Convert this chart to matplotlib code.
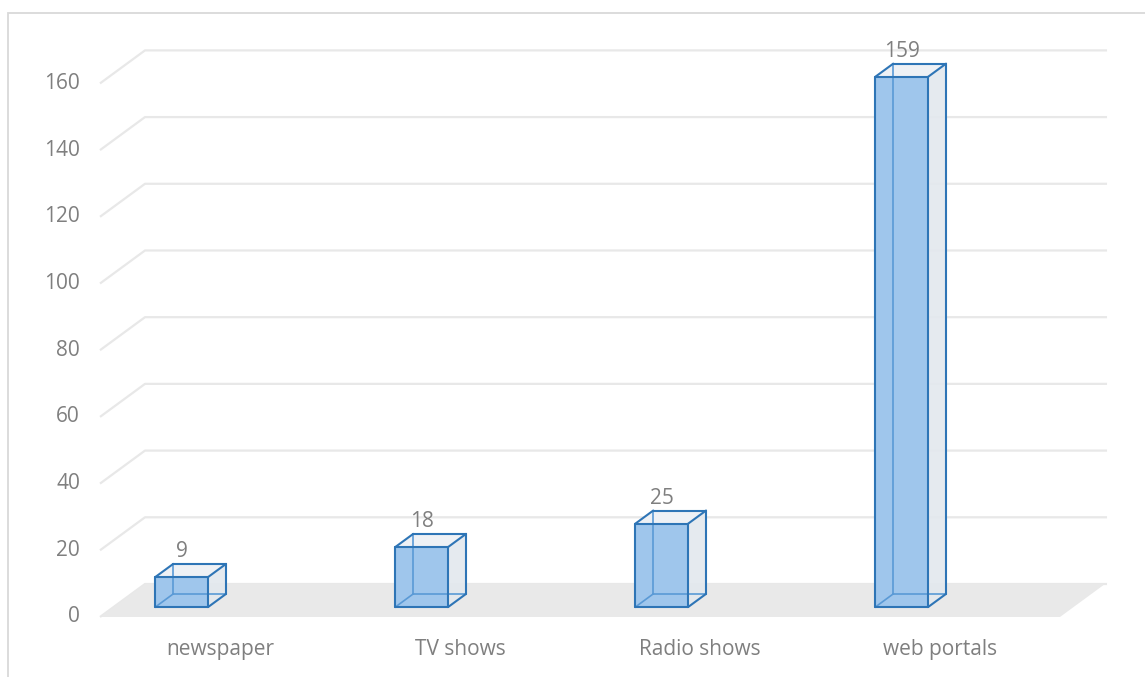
import matplotlib.pyplot as plt
from matplotlib.patches import Polygon, Rectangle

# data
categories = ['newspaper', 'TV shows', 'Radio shows', 'web portals']
values = [9, 18, 25, 159]
ticks = [0, 20, 40, 60, 80, 100, 120, 140, 160]

# fake 3d: depth shift (in category / value units for full floor depth)
DX = 0.1875
DY = 9.9
D0, D1 = 0.30, 0.70      # bar front / back depth
HALF = 0.11              # half bar width
OFF = -0.216             # bar shift from category centre
WALL_RIGHT = 3.696

edge = '#2E75B6'
hidden = '#5A9AD6'
front_col = '#9FC6EC'
side_col = '#E3E8EE'
top_col = '#EEF1F5'
grid_col = '#E8E8E8'
txt_col = '#7F7F7F'
FS = 15

plt.rcParams['font.family'] = ['Open Sans', 'DejaVu Sans']


def proj(c, v, d):
    return (c + d * DX, v + d * DY)


fig = plt.figure(figsize=(11.45, 6.77), dpi=100)
ax = fig.add_axes([0, 0, 1, 1])
ax.set_xlim(-220 / 240, 925 / 240)
ax.set_ylim(-60 / 3.335, 617 / 3.335)
ax.axis('off')

# chart frame
fig.patches.append(Rectangle((8 / 1145, -0.1), 2, 1.1 - 13 / 677,
                             transform=fig.transFigure, fill=False,
                             ec='#D9D9D9', lw=1.3))

# floor
left = -0.5
right = 3.5
floor = [proj(left, 0, 0), proj(right, 0, 0), proj(right, 0, 1), proj(left, 0, 1)]
ax.add_patch(Polygon(floor, closed=True, fc='#E9E9E9', ec='none', zorder=1))

# gridlines on back + side wall
for t in ticks:
    p0 = proj(left, t, 0)
    p1 = proj(left, t, 1)
    p2 = (WALL_RIGHT, p1[1])
    ax.plot([p0[0], p1[0], p2[0]], [p0[1], p1[1], p2[1]], color=grid_col,
            lw=1.6, zorder=0.5, solid_capstyle='butt')
    ax.text(left - 0.083, t, str(t), ha='right', va='center',
            fontsize=FS, color=txt_col)

# category labels
for i, name in enumerate(categories):
    ax.text(i, -9.6, name, ha='center', va='center', fontsize=FS, color=txt_col)

# bars
for i, v in enumerate(values):
    c = i + OFF
    x0, x1 = c - HALF, c + HALF
    # corners
    fbl = proj(x0, 0, D0); fbr = proj(x1, 0, D0)
    ftl = proj(x0, v, D0); ftr = proj(x1, v, D0)
    bbl = proj(x0, 0, D1); bbr = proj(x1, 0, D1)
    btl = proj(x0, v, D1); btr = proj(x1, v, D1)

    ax.add_patch(Polygon([fbr, bbr, btr, ftr], fc=side_col, ec='none', alpha=0.9, zorder=2))
    ax.add_patch(Polygon([ftl, ftr, btr, btl], fc=top_col, ec='none', zorder=2))
    ax.add_patch(Polygon([fbl, fbr, ftr, ftl], fc=front_col, ec='none', zorder=2))

    # hidden edges (seen through the front)
    for a, b in [(bbl, bbr), (bbl, btl), (fbl, bbl)]:
        ax.plot([a[0], b[0]], [a[1], b[1]], color=hidden, lw=1.2, zorder=3)
    # visible edges
    for a, b in [(fbl, fbr), (fbr, ftr), (ftr, ftl), (ftl, fbl),
                 (ftl, btl), (btl, btr), (btr, ftr), (fbr, bbr), (bbr, btr)]:
        ax.plot([a[0], b[0]], [a[1], b[1]], color=edge, lw=1.5, zorder=4,
                solid_capstyle='round')

    ax.text(c + D0 * DX, v + D1 * DY + 3.6, str(v), ha='center', va='center',
            fontsize=FS, color=txt_col, zorder=5)

fig.savefig('out.png', dpi=100)
